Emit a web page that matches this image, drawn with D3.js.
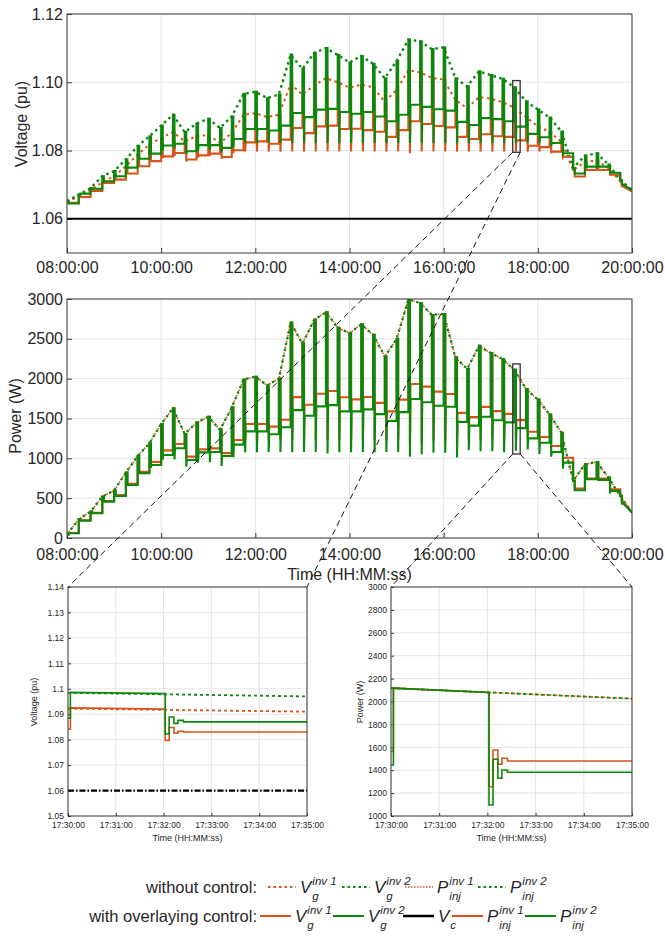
<!DOCTYPE html>
<html lang="en">
<head>
<meta charset="UTF-8" />
<title>Inverter voltage and power with overlaying control</title>
<script src="https://d3js.org/d3.v7.min.js"></script>
<style>
  html, body { margin: 0; padding: 0; background: #fff; }
  svg { display: block; font-family: "Liberation Sans", Arial, sans-serif; }
  .grid line { stroke: #e4e4e4; stroke-width: 1; }
  .tick text { fill: #262626; }
</style>
</head>
<body>
<svg id="chart" width="665" height="941"></svg>
<script>
// ---- data: 15-minute set-point slots ----
const slotTimes = ["08:00","08:15","08:30","08:45","09:00","09:15","09:30","09:45",
  "10:00","10:15","10:30","10:45","11:00","11:15","11:30","11:45",
  "12:00","12:15","12:30","12:45","13:00","13:15","13:30","13:45",
  "14:00","14:15","14:30","14:45","15:00","15:15","15:30","15:45",
  "16:00","16:15","16:30","16:45","17:00","17:15","17:30","17:45",
  "18:00","18:15","18:30","18:45","19:00","19:15","19:30","19:45","20:00"];
const dayTicks = ["08:00:00","10:00:00","12:00:00","14:00:00","16:00:00","18:00:00","20:00:00"];

// without control (value at each slot)
const vgInv1NoCtrl = [1.0649,1.0666,1.0684,1.0707,1.0725,1.0754,1.0788,1.0818,
  1.0837,1.0854,1.0827,1.0842,1.0846,1.0822,1.0852,1.0905,
  1.0910,1.0898,1.0905,1.0995,1.0964,1.0991,1.1012,1.1000,
  1.0984,1.0993,1.0986,1.0943,1.0978,1.1035,1.1029,1.1013,
  1.1008,1.0948,1.0924,1.0957,1.0952,1.0942,1.0925,1.0898,
  1.0871,1.0855,1.0825,1.0743,1.0766,1.0771,1.0749,1.0710,1.0681];
const vgInv2NoCtrl = [1.0652,1.0671,1.0690,1.0725,1.0740,1.0774,1.0813,1.0842,
  1.0873,1.0905,1.0854,1.0879,1.0893,1.0866,1.0900,1.0966,
  1.0972,1.0954,1.0964,1.1081,1.1039,1.1086,1.1100,1.1080,
  1.1058,1.1077,1.1054,1.1012,1.1062,1.1125,1.1120,1.1097,
  1.1102,1.1012,1.0988,1.1032,1.1021,1.1010,1.0985,1.0944,
  1.0920,1.0897,1.0856,1.0749,1.0785,1.0792,1.0759,1.0714,1.0684];
const pInjNoCtrl = [45,235,331,520,595,820,1030,1189,
  1431,1628,1306,1448,1520,1360,1640,1990,
  2025,1915,2000,2705,2440,2740,2833,2640,
  2571,2683,2550,2279,2496,2995,2950,2800,
  2812,2267,2121,2412,2321,2246,2110,1871,
  1737,1550,1321,717,925,954,758,529,321];

// with overlaying control: settled level in each slot and the dip right after the set-point change
const vgInv1Settled = [1.0647,1.0664,1.0682,1.0705,1.0715,1.0733,1.0754,1.0769,
  1.0783,1.0793,1.0774,1.0786,1.0791,1.0781,1.0801,1.0824,
  1.0827,1.0820,1.0832,1.0866,1.0851,1.0871,1.0873,1.0863,
  1.0864,1.0860,1.0855,1.0840,1.0860,1.0886,1.0878,1.0872,
  1.0868,1.0840,1.0834,1.0848,1.0842,1.0840,1.0830,1.0814,
  1.0810,1.0797,1.0782,1.0724,1.0743,1.0743,1.0729,1.0696];
const vgInv1Dip = [1.0647,1.0664,1.0682,1.0705,1.0715,1.0733,1.0754,1.0769,
  1.0778,1.0785,1.0768,1.0780,1.0785,1.0776,1.0793,1.0797,
  1.0797,1.0797,1.0797,1.0797,1.0797,1.0797,1.0797,1.0797,
  1.0797,1.0797,1.0797,1.0797,1.0797,1.0792,1.0797,1.0797,
  1.0797,1.0797,1.0797,1.0797,1.0797,1.0797,1.0797,1.0797,
  1.0797,1.0792,1.0780,1.0724,1.0743,1.0743,1.0729,1.0696];
const vgInv2Settled = [1.0645,1.0674,1.0688,1.0710,1.0725,1.0750,1.0776,1.0791,
  1.0815,1.0820,1.0798,1.0816,1.0816,1.0808,1.0834,1.0863,
  1.0863,1.0859,1.0873,1.0910,1.0898,1.0920,1.0922,1.0913,
  1.0908,1.0913,1.0900,1.0886,1.0905,1.0934,1.0928,1.0921,
  1.0917,1.0884,1.0875,1.0895,1.0892,1.0886,1.0870,1.0849,
  1.0839,1.0822,1.0792,1.0733,1.0753,1.0753,1.0735,1.0702];
const vgInv2Dip = [1.0645,1.0674,1.0688,1.0710,1.0725,1.0750,1.0776,1.0791,
  1.0800,1.0805,1.0790,1.0800,1.0802,1.0795,1.0810,1.0822,
  1.0822,1.0822,1.0822,1.0822,1.0822,1.0822,1.0822,1.0822,
  1.0822,1.0822,1.0822,1.0822,1.0822,1.0822,1.0822,1.0822,
  1.0822,1.0822,1.0822,1.0822,1.0822,1.0822,1.0822,1.0822,
  1.0822,1.0815,1.0790,1.0733,1.0753,1.0753,1.0735,1.0702];
const pInj1Settled = [62,222,315,465,538,680,830,955,
  1100,1180,1021,1113,1125,1065,1231,1431,
  1431,1398,1484,1768,1672,1810,1845,1767,
  1740,1770,1696,1590,1737,1933,1900,1837,
  1808,1571,1517,1646,1592,1558,1479,1333,
  1267,1154,1008,621,746,746,612,467];
const pInj1Dip = [62,222,315,465,538,680,830,955,
  1030,1130,1000,1090,1095,1050,1160,1230,
  1230,1230,1230,1230,1230,1230,1230,1230,
  1230,1230,1230,1230,1230,1180,1200,1220,
  1220,1160,1250,1240,1240,1230,1256,1260,
  1200,1150,1000,621,746,746,600,467];
const pInj2Settled = [59,218,310,457,528,666,812,917,
  1042,1126,980,1075,1080,1030,1172,1338,
  1338,1303,1390,1605,1535,1652,1668,1590,
  1590,1615,1555,1468,1580,1745,1704,1660,
  1648,1458,1411,1522,1478,1451,1379,1250,
  1196,1079,946,600,737,729,592,446];
const pInj2Dip = [59,218,310,457,528,666,812,880,
  985,985,895,945,950,905,1015,1075,
  1075,1080,1080,1075,1080,1080,1060,1075,
  1075,1080,1075,1080,1080,1020,1050,1070,
  1070,1010,1100,1090,1090,1075,1096,1110,
  1055,1020,870,600,737,729,560,420];
const vcLevel = [1.06];

// ---- data: detail 17:30:00 - 17:35:00 (seconds after 17:30:00) ----
const zoomTicks = ["17:30:00","17:31:00","17:32:00","17:33:00","17:34:00","17:35:00"];
const zoomSeconds = [0,3,3,122,122,127,127,133,133,138,138,145,145,300];
const zoomVg1 = [1.0841,1.0841,1.0925,1.0920,1.0797,1.0797,1.0848,1.0848,1.0826,1.0826,1.0833,1.0833,1.0830,1.0830];
const zoomVg2 = [1.0884,1.0884,1.0986,1.0981,1.0822,1.0822,1.0889,1.0889,1.0864,1.0864,1.0876,1.0876,1.0870,1.0870];
const zoomP1 = [1563,1563,2117,2079,1256,1256,1577,1577,1452,1452,1504,1504,1480,1480];
const zoomP2 = [1445,1445,2117,2079,1096,1096,1496,1496,1330,1330,1402,1402,1382,1382];
const zoomNoCtrlSeconds = [0,300];
const zoomVg1NoCtrl = [1.0922,1.0910];
const zoomVg2NoCtrl = [1.0984,1.0970];
const zoomPNoCtrl = [2117,2025];
// zoomed window as drawn in the daily plots
const zoomWindowTimes = ["17:28:00","17:37:30"];
const zoomWindowV = [1.0795,1.1005];
const zoomWindowP = [1055,2185];

const legendRow1 = [["V","g","inv 1"],["V","g","inv 2"],["P","inj","inv 1"],["P","inj","inv 2"]];
const legendRow2 = [["V","g","inv 1"],["V","g","inv 2"],["V","c",""],["P","inj","inv 1"],["P","inj","inv 2"]];

// ---- drawing ----
const ORANGE = "#D95319", GREEN = "#0b870b", TXT = "#262626", AX = "#3a3a3a";
const svg = d3.select("#chart");
const parseSlot = d3.timeParse("%H:%M");
const parseHMS = d3.timeParse("%H:%M:%S");
const slots = slotTimes.map(parseSlot);
const zoomStart = parseHMS("17:30:00");
const atSec = s => new Date(+zoomStart + s * 1000);

let clipId = 0;
function panel(box, xScale, yScale, opt) {
  const g = svg.append("g");
  const id = "clip" + (clipId++);
  svg.append("clipPath").attr("id", id).append("rect")
    .attr("x", box.l).attr("y", box.t).attr("width", box.r - box.l).attr("height", box.b - box.t);

  const grid = g.append("g").attr("class", "grid");
  grid.selectAll(".gx").data(opt.xTicks).join("line")
    .attr("x1", d => xScale(d)).attr("x2", d => xScale(d)).attr("y1", box.t).attr("y2", box.b);
  grid.selectAll(".gy").data(opt.yTicks).join("line")
    .attr("y1", d => yScale(d)).attr("y2", d => yScale(d)).attr("x1", box.l).attr("x2", box.r);

  const xAxis = g.append("g").attr("transform", `translate(0,${box.b})`)
    .call(d3.axisBottom(xScale).tickValues(opt.xTicks).tickFormat(opt.xFmt)
      .tickSizeInner(-opt.tick).tickSizeOuter(0).tickPadding(opt.xPad));
  const yAxis = g.append("g").attr("transform", `translate(${box.l},0)`)
    .call(d3.axisLeft(yScale).tickValues(opt.yTicks).tickFormat(opt.yFmt)
      .tickSizeInner(-opt.tick).tickSizeOuter(0).tickPadding(opt.yPad));
  [xAxis, yAxis].forEach(a => {
    a.select(".domain").remove();
    a.selectAll(".tick line").attr("stroke", AX);
    a.selectAll(".tick text").attr("font-size", opt.font).attr("fill", TXT)
      .attr("font-family", '"Liberation Sans", Arial, sans-serif');
  });

  const plot = svg.append("g").attr("clip-path", `url(#${id})`);
  const frame = () => svg.append("rect")
    .attr("x", box.l).attr("y", box.t).attr("width", box.r - box.l).attr("height", box.b - box.t)
    .attr("fill", "none").attr("stroke", AX).attr("stroke-width", 1);

  svg.append("text")
    .attr("transform", `translate(${opt.yLabelPos[0]},${opt.yLabelPos[1]}) rotate(-90)`)
    .attr("text-anchor", "middle").attr("dy", "0.35em")
    .attr("font-size", opt.labelFont).attr("fill", TXT).text(opt.yLabel);
  if (opt.xLabel) {
    svg.append("text").attr("x", (box.l + box.r) / 2).attr("y", opt.xLabelY)
      .attr("text-anchor", "middle").attr("font-size", opt.labelFont).attr("fill", TXT).text(opt.xLabel);
  }
  return { plot, frame };
}

function drawLine(g, pts, x, y, color, width, dash) {
  g.append("path").datum(pts)
    .attr("d", d3.line().x(d => x(d[0])).y(d => y(d[1])))
    .attr("fill", "none").attr("stroke", color).attr("stroke-width", width)
    .attr("stroke-dasharray", dash || null).attr("stroke-linejoin", "miter");
}

// controlled trajectory: jump to uncontrolled value at slot start, dip when the
// overlaying control acts two minutes later, then hold the settled level
// (the last slot runs into the end-of-day value)
function controlled(noCtrl, settled, dip) {
  const pts = [];
  const last = settled.length - 1;
  settled.forEach((lvl, i) => {
    const t0 = slots[i], tc = d3.timeMinute.offset(t0, 2);
    pts.push([t0, i === 0 ? noCtrl[0] : settled[i - 1]]);
    pts.push([t0, noCtrl[i]]);
    pts.push([tc, noCtrl[i]]);
    pts.push([tc, dip[i]]);
    pts.push([d3.timeSecond.offset(tc, 40), lvl]);
    pts.push([slots[i + 1], i === last ? noCtrl[i + 1] : lvl]);
  });
  return pts;
}
const uncontrolled = vals => vals.map((v, i) => [slots[i], v]);

const dayDomain = [slots[0], slots[slots.length - 1]];
const dayTickDates = dayTicks.map(parseHMS);
const fmtHMS = d3.timeFormat("%H:%M:%S");

// ---------- top: daily voltage ----------
const boxV = { l: 67, r: 632, t: 14, b: 253 };
const xV = d3.scaleTime().domain(dayDomain).range([boxV.l, boxV.r]);
const yV = d3.scaleLinear().domain([1.05, 1.12]).range([boxV.b, boxV.t]);
const pV = panel(boxV, xV, yV, {
  xTicks: dayTickDates, xFmt: fmtHMS, yTicks: [1.06, 1.08, 1.10, 1.12], yFmt: d3.format(".2f"),
  tick: 5, xPad: 9, yPad: 4, font: 16, labelFont: 16, yLabel: "Voltage (pu)", yLabelPos: [21, 124]
});
drawLine(pV.plot, dayDomain.map(t => [t, vcLevel[0]]), xV, yV, "#000", 2);
drawLine(pV.plot, uncontrolled(vgInv1NoCtrl), xV, yV, ORANGE, 2, "2.5,3.5");
drawLine(pV.plot, uncontrolled(vgInv2NoCtrl), xV, yV, GREEN, 2.4, "2.5,3.5");
drawLine(pV.plot, controlled(vgInv1NoCtrl, vgInv1Settled, vgInv1Dip), xV, yV, ORANGE, 2.1);
drawLine(pV.plot, controlled(vgInv2NoCtrl, vgInv2Settled, vgInv2Dip), xV, yV, GREEN, 2.1);
pV.frame();

// ---------- middle: daily power ----------
const boxP = { l: 67, r: 632, t: 299, b: 538 };
const xP = d3.scaleTime().domain(dayDomain).range([boxP.l, boxP.r]);
const yP = d3.scaleLinear().domain([0, 3000]).range([boxP.b, boxP.t]);
const pP = panel(boxP, xP, yP, {
  xTicks: dayTickDates, xFmt: fmtHMS, yTicks: d3.range(0, 3001, 500), yFmt: d3.format("d"),
  tick: 5, xPad: 11, yPad: 4, font: 16, labelFont: 16, yLabel: "Power (W)", yLabelPos: [15, 416],
  xLabel: "Time (HH:MM:ss)", xLabelY: 580
});
drawLine(pP.plot, uncontrolled(pInjNoCtrl), xP, yP, ORANGE, 1.6, "1.5,1.5");
drawLine(pP.plot, uncontrolled(pInjNoCtrl), xP, yP, GREEN, 2.2, "2.5,3.5");
drawLine(pP.plot, controlled(pInjNoCtrl, pInj1Settled, pInj1Dip), xP, yP, ORANGE, 2.1);
drawLine(pP.plot, controlled(pInjNoCtrl, pInj2Settled, pInj2Dip), xP, yP, GREEN, 2.1);
pP.frame();

// ---------- bottom: 5-minute details ----------
const zoomTickDates = zoomTicks.map(parseHMS);
const zoomDomain = [zoomTickDates[0], zoomTickDates[zoomTickDates.length - 1]];
const zipZoom = (secs, vals) => vals.map((v, i) => [atSec(secs[i]), v]);

const boxZV = { l: 68, r: 307, t: 587, b: 816 };
const xZV = d3.scaleTime().domain(zoomDomain).range([boxZV.l, boxZV.r]);
const yZV = d3.scaleLinear().domain([1.05, 1.14]).range([boxZV.b, boxZV.t]);
const pZV = panel(boxZV, xZV, yZV, {
  xTicks: zoomTickDates, xFmt: fmtHMS, yTicks: d3.range(1.05, 1.1401, 0.01), yFmt: d3.format(".3~f"),
  tick: 3, xPad: 6, yPad: 4, font: 8.5, labelFont: 9, yLabel: "Voltage (pu)", yLabelPos: [34, 702],
  xLabel: "Time (HH:MM:ss)", xLabelY: 841
});
drawLine(pZV.plot, zoomDomain.map(t => [t, vcLevel[0]]), xZV, yZV, "#000", 2.2, "6,2,1.5,2");
drawLine(pZV.plot, zipZoom(zoomNoCtrlSeconds, zoomVg1NoCtrl), xZV, yZV, ORANGE, 1.8, "3,3");
drawLine(pZV.plot, zipZoom(zoomNoCtrlSeconds, zoomVg2NoCtrl), xZV, yZV, GREEN, 1.8, "3,3");
drawLine(pZV.plot, zipZoom(zoomSeconds, zoomVg1), xZV, yZV, ORANGE, 1.6);
drawLine(pZV.plot, zipZoom(zoomSeconds, zoomVg2), xZV, yZV, GREEN, 1.6);
pZV.frame();

const boxZP = { l: 391, r: 632, t: 587, b: 816 };
const xZP = d3.scaleTime().domain(zoomDomain).range([boxZP.l, boxZP.r]);
const yZP = d3.scaleLinear().domain([1000, 3000]).range([boxZP.b, boxZP.t]);
const pZP = panel(boxZP, xZP, yZP, {
  xTicks: zoomTickDates, xFmt: fmtHMS, yTicks: d3.range(1000, 3001, 200), yFmt: d3.format("d"),
  tick: 3, xPad: 6, yPad: 4, font: 8.5, labelFont: 9, yLabel: "Power (W)", yLabelPos: [360, 702],
  xLabel: "Time (HH:MM:ss)", xLabelY: 841
});
drawLine(pZP.plot, zipZoom(zoomNoCtrlSeconds, zoomPNoCtrl), xZP, yZP, ORANGE, 1.6, "1.5,1.5");
drawLine(pZP.plot, zipZoom(zoomNoCtrlSeconds, zoomPNoCtrl), xZP, yZP, GREEN, 1.8, "3,3");
drawLine(pZP.plot, zipZoom(zoomSeconds, zoomP1), xZP, yZP, ORANGE, 1.6);
drawLine(pZP.plot, zipZoom(zoomSeconds, zoomP2), xZP, yZP, GREEN, 1.6);
pZP.frame();

// ---------- zoom windows and connectors ----------
const winT = zoomWindowTimes.map(parseHMS);
function zoomWindow(x, y, vals, target) {
  const x0 = x(winT[0]), x1 = x(winT[1]), yTop = y(vals[1]), yBot = y(vals[0]);
  svg.append("rect").attr("x", x0).attr("y", yTop).attr("width", x1 - x0).attr("height", yBot - yTop)
    .attr("fill", "none").attr("stroke", "#333").attr("stroke-width", 1.3);
  [[x0, target.l], [x1, target.r]].forEach(([xs, xt]) => {
    svg.append("line").attr("x1", xs).attr("y1", yBot).attr("x2", xt).attr("y2", target.t)
      .attr("stroke", "#111").attr("stroke-width", 1).attr("stroke-dasharray", "6,4");
  });
}
zoomWindow(xV, yV, zoomWindowV, boxZV);
zoomWindow(xP, yP, zoomWindowP, boxZP);

// ---------- legend ----------
function legendRow(labels, y, title, starts, symLen, styles) {
  svg.append("text").attr("x", 257).attr("y", y + 6).attr("text-anchor", "end")
    .attr("font-size", 16.5).attr("fill", TXT).text(title);
  labels.forEach((lab, i) => {
    const s = styles[i], x0 = starts[i];
    svg.append("line").attr("x1", x0).attr("x2", x0 + symLen).attr("y1", y).attr("y2", y)
      .attr("stroke", s.color).attr("stroke-width", s.width).attr("stroke-dasharray", s.dash || null);
    const tx = x0 + symLen + 4;
    const main = svg.append("text").attr("x", tx).attr("y", y + 6)
      .attr("font-size", 17).attr("font-style", "italic").attr("fill", TXT).text(lab[0]);
    const w = main.node().getComputedTextLength();
    svg.append("text").attr("x", tx + w + 1).attr("y", y + 13)
      .attr("font-size", 11.5).attr("font-style", "italic").attr("fill", TXT).text(lab[1]);
    if (lab[2]) svg.append("text").attr("x", tx + w + 1).attr("y", y - 2)
      .attr("font-size", 11.5).attr("font-style", "italic").attr("fill", TXT).text(lab[2]);
  });
}
legendRow(legendRow1, 887, "without control:", [268, 342, 405, 478], 28, [
  { color: ORANGE, width: 2, dash: "2.5,3" }, { color: GREEN, width: 2, dash: "2.5,3" },
  { color: ORANGE, width: 1.6, dash: "1.5,1.5" }, { color: GREEN, width: 2, dash: "2.5,3" }]);
legendRow(legendRow2, 916, "with overlaying control:", [260, 333, 403, 452, 525], 31, [
  { color: ORANGE, width: 2 }, { color: GREEN, width: 2 }, { color: "#000", width: 2.5 },
  { color: ORANGE, width: 2 }, { color: GREEN, width: 2 }]);
</script>
</body>
</html>
